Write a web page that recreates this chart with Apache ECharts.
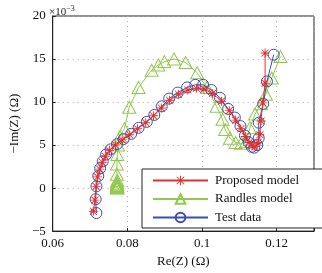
<!DOCTYPE html>
<html>
<head>
<meta charset="utf-8">
<script src="https://cdn.jsdelivr.net/npm/echarts@6/dist/echarts.min.js"></script>
<style>
  html, body { margin: 0; padding: 0; background: #fff; }
  #chart { width: 322px; height: 273px; }
</style>
</head>
<body>
<div id="chart"></div>
<script>
var dom = document.getElementById('chart');
var myChart = echarts.init(dom, null, { renderer: 'canvas' });

// values: [Re(Z), -Im(Z) in 1e-3]
var seriesNames = ['Proposed model', 'Randles model', 'Test data'];

var proposed = [
  [0.0709, -2.7], [0.0713, -1.4], [0.0716, 0.2], [0.0720, 1.3], [0.0726, 2.2],
  [0.0733, 3.0], [0.0741, 3.7], [0.0752, 4.4], [0.0768, 5.0], [0.0786, 5.6],
  [0.0806, 6.2], [0.0827, 6.9], [0.0849, 7.6], [0.0870, 8.4], [0.0891, 9.3],
  [0.0913, 10.2], [0.0937, 10.9], [0.0962, 11.4], [0.0985, 11.6], [0.1005, 11.5],
  [0.1028, 11.0], [0.1052, 10.1], [0.1073, 9.0], [0.1090, 7.9], [0.1104, 6.9],
  [0.1116, 6.0], [0.1126, 5.3], [0.1134, 4.9], [0.1142, 4.8], [0.1150, 5.3],
  [0.1155, 6.2], [0.1158, 7.8], [0.1163, 9.9], [0.1169, 12.2], [0.1169, 15.7]
];

var randles = [
  [0.0772, 0.0], [0.0773, 0.05], [0.0772, 0.1], [0.0773, 0.15], [0.0773, 0.2],
  [0.0772, 0.3], [0.0773, 0.4], [0.0772, 0.5], [0.0772, 0.7], [0.0773, 0.9],
  [0.0772, 1.6], [0.0772, 2.8], [0.0773, 3.9], [0.0775, 5.0], [0.0780, 6.0],
  [0.0792, 6.9], [0.0805, 9.4], [0.0830, 11.7], [0.0865, 13.7], [0.0883, 14.3],
  [0.0899, 14.7], [0.0925, 15.0], [0.0956, 14.6], [0.0987, 13.4], [0.1013, 11.7],
  [0.1039, 9.5], [0.1055, 8.0], [0.1062, 6.8], [0.1075, 5.8], [0.1090, 5.3],
  [0.1105, 5.2], [0.1118, 5.4], [0.1128, 7.0], [0.1142, 8.6], [0.1158, 9.8],
  [0.1171, 10.9], [0.1187, 12.8], [0.1210, 15.3]
];

var testData = [
  [0.0717, -2.9], [0.0715, -1.3], [0.0717, 0.2], [0.0722, 1.4], [0.0727, 2.3],
  [0.0734, 3.1], [0.0743, 3.9], [0.0755, 4.5], [0.0772, 5.1], [0.0790, 5.7],
  [0.0810, 6.3], [0.0830, 7.0], [0.0852, 7.7], [0.0872, 8.5], [0.0892, 9.5],
  [0.0912, 10.4], [0.0935, 11.1], [0.0960, 11.7], [0.0982, 12.0], [0.1003, 12.0],
  [0.1025, 11.4], [0.1048, 10.5], [0.1070, 9.2], [0.1088, 8.2], [0.1103, 7.2],
  [0.1115, 6.1], [0.1125, 5.3], [0.1133, 4.8], [0.1140, 4.7], [0.1148, 5.0],
  [0.1152, 5.8], [0.1152, 7.6], [0.1164, 9.8], [0.1174, 12.4], [0.1192, 15.5]
];

var xMin = 0.06, xMax = 0.13, xStep = 0.02;
var yMin = -5, yMax = 20, yStep = 5;

var red = '#e2302c', green = '#93c84e', blue = '#3c4fae';
var font = '"Liberation Serif", "DejaVu Serif", serif';

// asterisk marker, like matlab '*'
var starPath = 'path://M9,0 L11,0 L11,20 L9,20 Z M0,9 L20,9 L20,11 L0,11 Z ' +
  'M2.9,1.5 L18.5,17.1 L17.1,18.5 L1.5,2.9 Z M17.1,1.5 L18.5,2.9 L2.9,18.5 L1.5,17.1 Z';

var option = {
  animation: false,
  backgroundColor: '#fff',
  textStyle: { fontFamily: font },
  title: {
    text: '×10{s|−3}',
    left: 44,
    top: 0,
    textStyle: {
      fontFamily: font, fontSize: 11, fontWeight: 'normal', color: '#222',
      rich: { s: { fontFamily: font, fontSize: 8, verticalAlign: 'top', padding: [0, 0, 6, 0], color: '#222' } }
    }
  },
  grid: {
    left: 43, top: 16, right: 8, bottom: 39,
    show: true, borderColor: '#222', borderWidth: 1
  },
  legend: {
    orient: 'vertical',
    left: 142, top: 169,
    padding: [5, 25, 4, 10],
    itemWidth: 55, itemHeight: 12, itemGap: 5.5,
    backgroundColor: '#fff',
    borderColor: '#222', borderWidth: 1,
    textStyle: { fontFamily: font, fontSize: 13, color: '#111', padding: [0, 0, 0, 2] },
    data: seriesNames
  },
  xAxis: {
    type: 'value',
    min: xMin, max: xMax, interval: xStep,
    name: 'Re(Z) (Ω)',
    nameLocation: 'middle', nameGap: 22,
    nameTextStyle: { fontFamily: font, fontSize: 13, color: '#111' },
    axisLine: { show: true, onZero: false, lineStyle: { color: '#222' } },
    axisTick: { show: true, inside: true, length: 3, lineStyle: { color: '#222' } },
    axisLabel: {
      fontFamily: font, fontSize: 13, color: '#111', margin: 6,
      formatter: function (v) {
        if (Math.abs(v - xMax) < 1e-9) return '';
        return String(+v.toFixed(2));
      }
    },
    splitLine: { show: true, lineStyle: { color: '#aaa', type: [1, 4], width: 1 } }
  },
  yAxis: {
    type: 'value',
    min: yMin, max: yMax, interval: yStep,
    name: '−Im(Z) (Ω)',
    nameLocation: 'middle', nameGap: 27, nameRotate: 90,
    nameTextStyle: { fontFamily: font, fontSize: 13, color: '#111' },
    axisLine: { show: true, onZero: false, lineStyle: { color: '#222' } },
    axisTick: { show: true, inside: true, length: 3, lineStyle: { color: '#222' } },
    axisLabel: {
      fontFamily: font, fontSize: 13, color: '#111', margin: 7,
      formatter: function (v) { return String(v).replace('-', '−'); }
    },
    splitLine: { show: true, lineStyle: { color: '#aaa', type: [1, 4], width: 1 } }
  },
  series: [
    {
      name: seriesNames[0],
      type: 'line',
      data: proposed,
      symbol: starPath,
      symbolSize: 9,
      z: 4,
      itemStyle: { color: red },
      lineStyle: { color: red, width: 1 }
    },
    {
      name: seriesNames[1],
      type: 'line',
      data: randles,
      symbol: 'triangle',
      symbolSize: [13, 12],
      z: 2,
      itemStyle: { color: 'rgba(0,0,0,0)', borderColor: green, borderWidth: 1 },
      lineStyle: { color: green, width: 1 }
    },
    {
      name: seriesNames[2],
      type: 'line',
      data: testData,
      symbol: 'circle',
      symbolSize: 11,
      z: 3,
      itemStyle: { color: 'rgba(0,0,0,0)', borderColor: blue, borderWidth: 1 },
      lineStyle: { color: blue, width: 1 }
    }
  ]
};

if (option && typeof option === 'object') {
  myChart.setOption(option);
}
</script>
</body>
</html>
